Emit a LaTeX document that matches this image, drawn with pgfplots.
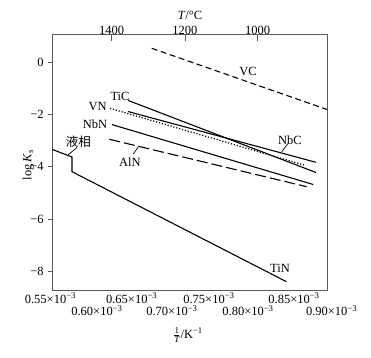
\documentclass[border=0pt]{standalone}
\usepackage{fontspec}
\setmainfont{Liberation Serif}
\newfontfamily\cjk{Noto Sans CJK SC}
\usepackage{pgfplots}
\pgfplotsset{compat=1.18}
\begin{document}
\fontsize{12.5}{15}\selectfont
\begin{tikzpicture}
\pgfplotsset{
  common/.style={
    at={(0,0)}, anchor=south west,
    scale only axis, width=275pt, height=255.7pt,
    xmin=0.5519, xmax=0.8944, ymin=-8.699, ymax=1.057,
    axis line style={black!65, line width=0.8pt},
    tick style={black!65, line width=0.8pt},
  }
}
\begin{axis}[common,
  clip=false,
  xtick=\empty,
  minor xtick={0.5752,0.5954,0.6156,0.6359,0.6561,0.6763,0.6965,0.7167,0.7370,0.7572,0.7774,0.7976,0.8178,0.8381,0.8583,0.8785},
  xtick pos=bottom, xtick align=inside,
  minor tick length=5.5pt,
  major tick length=4pt,
  ytick={-8,-6,-4,-2,0}, yticklabels={−8,−6,−4,−2,0},
  ytick pos=left, ytick align=outside,
  ylabel={log\,\textit{K}\textsubscript{s}},
  ylabel style={at={(axis description cs:-0.086,0.49)}, anchor=center},
]
% VC
\addplot[black, line width=1.1pt, dash pattern=on 6pt off 3.5pt] coordinates {(0.6761,0.523) (0.8944,-1.812)};
% TiC
\addplot[black, line width=1.1pt] coordinates {(0.6469,-1.469) (0.8807,-4.216)};
% NbC
\addplot[black, line width=1.1pt] coordinates {(0.6465,-1.889) (0.8807,-3.827)};
% VN
\addplot[black, line width=1.2pt, dash pattern=on 1.2pt off 1.8pt] coordinates {(0.6241,-1.767) (0.8657,-3.930)};
% NbN
\addplot[black, line width=1.1pt] coordinates {(0.6266,-2.388) (0.8773,-4.674)};
% AlN
\addplot[black, line width=1.1pt, dash pattern=on 11pt off 4pt] coordinates {(0.6233,-2.949) (0.8691,-4.758)};
% TiN
\addplot[black, line width=1.1pt] coordinates {(0.5519,-3.331) (0.5768,-3.625) (0.5768,-4.185) (0.8439,-8.382)};

\node at (axis cs:0.7960,-0.370) {VC};
\node at (axis cs:0.6366,-1.316) {TiC};
\node at (axis cs:0.6088,-1.705) {VN};
\node at (axis cs:0.6054,-2.366) {NbN};
\node at (axis cs:0.6490,-3.804) {AlN};
\node at (axis cs:0.8483,-2.976) {NbC};
\node at (axis cs:0.8358,-7.871) {TiN};
\node at (axis cs:0.5847,-3.041) {\cjk 液相};
\draw[black, line width=0.7pt] (axis cs:0.5718,-3.548) -- (axis cs:0.5830,-3.262);
\draw[black, line width=0.7pt] (axis cs:0.6531,-3.510) -- (axis cs:0.6594,-3.232);
\draw[black, line width=0.7pt] (axis cs:0.8380,-3.422) -- (axis cs:0.8458,-3.110);

\node[anchor=base, yshift=-13pt] at (axis cs:0.5500,-8.699) {0.55×10\textsuperscript{−3}};
\node[anchor=base, yshift=-13pt] at (axis cs:0.6512,-8.699) {0.65×10\textsuperscript{−3}};
\node[anchor=base, yshift=-13pt] at (axis cs:0.7474,-8.699) {0.75×10\textsuperscript{−3}};
\node[anchor=base, yshift=-13pt] at (axis cs:0.8533,-8.699) {0.85×10\textsuperscript{−3}};
\node[anchor=base, yshift=-25.7pt] at (axis cs:0.6079,-8.699) {0.60×10\textsuperscript{−3}};
\node[anchor=base, yshift=-25.7pt] at (axis cs:0.7013,-8.699) {0.70×10\textsuperscript{−3}};
\node[anchor=base, yshift=-25.7pt] at (axis cs:0.7960,-8.699) {0.80×10\textsuperscript{−3}};
\node[anchor=base, yshift=-25.7pt] at (axis cs:0.9002,-8.699) {0.90×10\textsuperscript{−3}};
\node at (axis description cs:0.4945,-0.176) {$\frac{\mbox{\small 1}}{\mbox{\small\itshape T}}$/K\textsuperscript{−1}};
\end{axis}
\begin{axis}[common,
  axis x line*=top, hide y axis,
  xtick={0.6262,0.7175,0.8081}, xticklabels={1400,1200,1000},
  xtick align=inside, major tick length=6.5pt,
  xticklabel style={anchor=base, yshift=0pt},
  xlabel={\textit{T}/°C},
  xlabel style={at={(axis description cs:0.502,1.056)}, anchor=base},
]
\end{axis}
\path (-52pt,-67pt) rectangle (319pt,290pt);
\end{tikzpicture}
\end{document}
